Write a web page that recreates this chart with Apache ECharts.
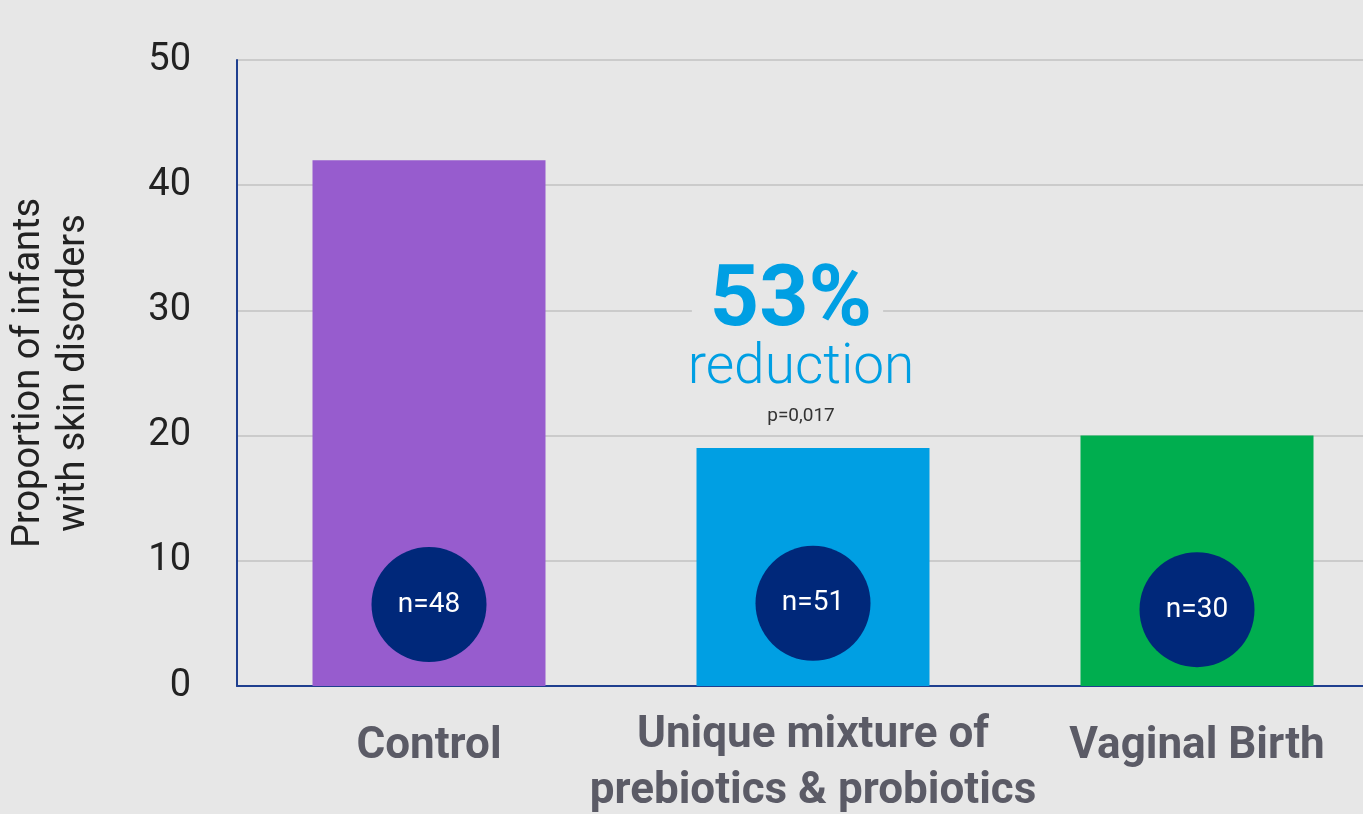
<!DOCTYPE html>
<html>
<head>
<meta charset="utf-8">
<script src="https://cdn.jsdelivr.net/npm/echarts@6/dist/echarts.min.js"></script>
<style>
  html, body { margin: 0; padding: 0; background: #e7e7e7; }
  #main { width: 1363px; height: 814px; }
</style>
</head>
<body>
<div id="main"></div>
<script>
// chart data
var categories = ['Control', 'Unique mixture of\nprebiotics & probiotics', 'Vaginal Birth'];
var proportions = [42, 19, 20];
var barColors = ['#975cce', '#009fe3', '#00ae4f'];
var sampleSizes = ['n=48', 'n=51', 'n=30'];
var circleLevel = [6.5, 6.6, 6.1];
var yTicks = [0, 10, 20, 30, 40, 50];
var reductionText = '53%';
var pValueText = 'p=0,017';

var myChart = echarts.init(document.getElementById('main'));

var catData = [];
for (var i = 0; i < categories.length; i++) {
    var c = { value: categories[i] };
    // single line labels sit a little lower than the two line one
    if (categories[i].indexOf('\n') < 0) {
        c.textStyle = { padding: [11, 0, 0, 0] };
    }
    catData.push(c);
}

var barData = [];
for (var i = 0; i < proportions.length; i++) {
    var item = { value: proportions[i], itemStyle: { color: barColors[i] } };
    if (i == 1) {
        item.label = {
            show: true,
            position: 'top',
            distance: 17,
            offset: [-12, 0],
            formatter: '{big|' + reductionText + '}{gap| }\n{med|reduction}\n{small|' + pValueText + '}',
            rich: {
                big: {
                    fontFamily: 'Roboto', fontWeight: 'bold', fontSize: 86, color: '#009fe3',
                    lineHeight: 68, backgroundColor: '#e7e7e7', padding: [0, 11, 0, 18]
                },
                gap: { width: 27, lineHeight: 68 },
                med: {
                    fontFamily: 'Roboto', fontWeight: 300, fontSize: 55, color: '#009fe3', lineHeight: 64
                },
                small: {
                    fontFamily: 'Roboto', fontSize: 19, color: '#333333', lineHeight: 30
                }
            }
        };
    }
    barData.push(item);
}

var circleData = [];
for (var i = 0; i < circleLevel.length; i++) {
    circleData.push({ value: [i, circleLevel[i]], name: sampleSizes[i] });
}

var option = {
    backgroundColor: '#e7e7e7',
    animation: false,
    grid: {
        left: 237,
        right: -26,
        top: 60,
        bottom: 128,
        containLabel: false,
        outerBoundsMode: 'none'
    },
    xAxis: {
        type: 'category',
        data: catData,
        axisLine: { show: true, lineStyle: { color: '#1f3f8f', width: 2 } },
        axisTick: { show: false },
        axisLabel: {
            interval: 0,
            hideOverlap: false,
            fontFamily: 'Roboto',
            fontWeight: 'bold',
            fontSize: 44,
            color: '#5b5b66',
            lineHeight: 56,
            margin: 22
        }
    },
    yAxis: {
        type: 'value',
        min: yTicks[0],
        max: yTicks[yTicks.length - 1],
        interval: 10,
        name: 'Proportion of infants\nwith skin disorders',
        nameLocation: 'middle',
        nameGap: 140,
        nameRotate: 90,
        nameTextStyle: {
            fontFamily: 'Roboto',
            fontSize: 38,
            color: '#222222',
            lineHeight: 45
        },
        axisLine: { show: true, lineStyle: { color: '#1f3f8f', width: 2 } },
        axisTick: { show: false },
        axisLabel: {
            fontFamily: 'Roboto',
            fontSize: 38,
            color: '#222222',
            margin: 46
        },
        splitLine: { show: true, lineStyle: { color: '#cbcbcb', width: 2 } }
    },
    series: [
        {
            type: 'bar',
            data: barData,
            barWidth: 233,
            z: 2
        },
        {
            type: 'scatter',
            data: circleData,
            symbol: 'circle',
            symbolSize: 115,
            itemStyle: { color: '#00287a', opacity: 1 },
            label: {
                show: true,
                position: 'inside',
                formatter: function (p) { return p.name; },
                fontFamily: 'Roboto',
                fontSize: 28,
                color: '#ffffff'
            },
            z: 3
        }
    ]
};

myChart.setOption(option);
</script>
</body>
</html>
